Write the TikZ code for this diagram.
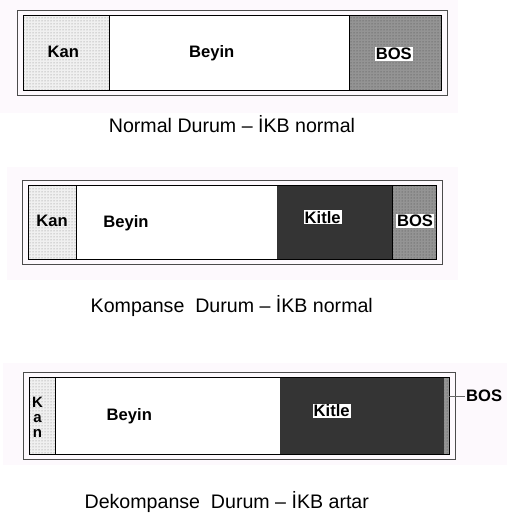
\documentclass[tikz,border=0pt]{standalone}
\usepackage{fontspec}
\setmainfont{Liberation Sans}
\usetikzlibrary{patterns,positioning}
\definecolor{panelbg}{RGB}{253,249,253}
\definecolor{kitlegray}{RGB}{52,52,52}
\begin{document}
\begin{tikzpicture}[x=1pt,y=-1pt,
  lbl/.style={font=\fontsize{16.6}{18}\selectfont\bfseries, inner sep=1pt, anchor=base},
  boxlbl/.style={lbl, fill=white},
  caption/.style={font=\fontsize{19.6}{21}\selectfont, anchor=base},
  outerframe/.style={draw=black!70, line width=1pt},
  innerframe/.style={draw=black, line width=0.9pt},
  kanfill/.style={fill=black!6, postaction={pattern=dots, pattern color=black!50}},
  bosfill/.style={fill=black!42, postaction={pattern=dots, pattern color=black!72}}]
\useasboundingbox (0,0) rectangle (510,516);

% Faint backgrounds
\fill[panelbg] (0,0) rectangle (458,113);
\fill[panelbg] (7,167) rectangle (458,280);
\fill[panelbg] (3,363) rectangle (507,465);

% Panel 1: normal
\draw[outerframe] (17.7,11) rectangle (447,96);
\fill[kanfill] (23.3,15.7) rectangle (109.3,90.7);
\fill[white] (109.3,15.7) rectangle (349.3,90.7);
\fill[bosfill] (349.3,15.7) rectangle (441,90.7);
\draw[innerframe] (23.3,15.7) rectangle (441,90.7);
\draw[innerframe] (109.3,15.7) -- (109.3,90.7);
\draw[innerframe] (349.3,15.7) -- (349.3,90.7);
\node[lbl] (kanA) at (63.3,57.3) {Kan};
\node[lbl] (beyinA) at (211.7,57.3) {Beyin};
\node[boxlbl] (bosA) at (393.8,60) {BOS};
\node[caption] (capA) at (232,132.3) {Normal Durum – İKB normal};

% Panel 2: kompanse
\draw[outerframe] (22.3,180.7) rectangle (442.7,264.3);
\fill[kanfill] (28,185.7) rectangle (76.3,259);
\fill[white] (76.3,185.7) rectangle (277.3,259);
\fill[kitlegray] (277.3,185.7) rectangle (392.3,259);
\fill[bosfill] (392.3,185.7) rectangle (436.3,259);
\draw[innerframe] (28,185.7) rectangle (436.3,259);
\draw[innerframe] (76.3,185.7) -- (76.3,259);
\draw[innerframe] (392.3,185.7) -- (392.3,259);
\node[lbl] (kanB) at (52,226) {Kan};
\node[lbl] (beyinB) at (126,227.7) {Beyin};
\node[boxlbl] (kitleB) at (322.7,223.3) {Kitle};
\node[boxlbl] (bosB) at (415,226.7) {BOS};
\node[caption] (capB) at (231.8,312.5) {Kompanse\ \ Durum – İKB normal};

% Panel 3: dekompanse
\draw[outerframe] (23.3,372.7) rectangle (455,459.3);
\fill[kanfill] (29,377.7) rectangle (55,454);
\fill[white] (55,377.7) rectangle (280,454);
\fill[kitlegray] (280,377.7) rectangle (444.3,454);
\fill[bosfill] (444.3,377.7) rectangle (449,454);
\draw[innerframe] (29,377.7) rectangle (449,454);
\draw[innerframe] (55,377.7) -- (55,454);
\node[lbl, anchor=center, align=center, inner sep=0pt, font=\fontsize{15}{15}\selectfont\bfseries] (kanC) at (37.5,417) {K\\a\\n};
\node[lbl] (beyinC) at (129.3,420.7) {Beyin};
\node[boxlbl] (kitleC) at (331.7,416.7) {Kitle};
\node[lbl, anchor=base west] (bosC) at (465,401.7) {BOS};
\coordinate (bosTip) at (449,396);
\draw[black!60, line width=0.6pt] (bosTip) -- (bosTip -| bosC.west);
\node[caption] (capC) at (226.8,508.5) {Dekompanse\ \ Durum – İKB artar};

\end{tikzpicture}
\end{document}
